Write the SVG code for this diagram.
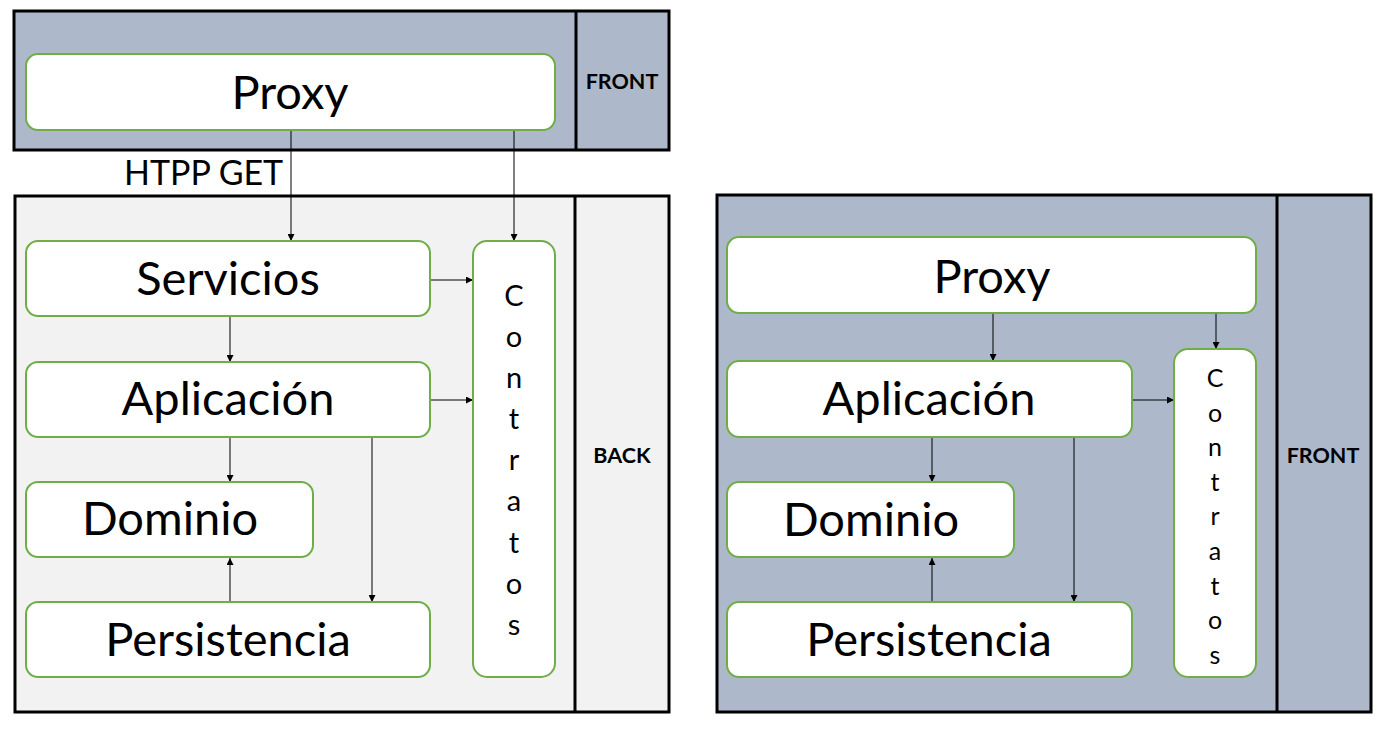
<svg xmlns="http://www.w3.org/2000/svg" width="1391" height="730" viewBox="0 0 1391 730">
<style>
.panel{stroke:#000;stroke-width:3}
.blue{fill:#ADB9CA}
.grey{fill:#F2F2F2}
.box{fill:#fff;stroke:#70AD47;stroke-width:2}
.t{font-family:Lato,"Open Sans",sans-serif;font-size:47px;fill:#000;text-anchor:middle}
.s{font-family:Lato,"Open Sans",sans-serif;font-size:29px;fill:#000;text-anchor:middle}
.r{font-size:25px}
.lbl{font-family:Lato,"Open Sans",sans-serif;font-size:21.5px;font-weight:bold;fill:#000;text-anchor:middle}
.c{stroke:#000;stroke-width:1;fill:none;marker-end:url(#ah)}
</style>
<defs>
<marker id="ah" viewBox="0 0 10 10" refX="10" refY="5" markerWidth="9" markerHeight="7" markerUnits="userSpaceOnUse" orient="auto">
<path d="M0,0 L10,5 L0,10 z" fill="#000"/>
</marker>
</defs>
<rect id="front-top-panel" class="panel blue" x="14" y="11" width="655" height="139"/>
<line class="panel" x1="576" y1="11" x2="576" y2="150"/>
<text class="lbl" x="622" y="89">FRONT</text>
<rect id="back-panel" class="panel grey" x="15" y="196" width="654" height="516"/>
<line class="panel" x1="575" y1="196" x2="575" y2="712"/>
<text class="lbl" x="622" y="463">BACK</text>
<rect id="front-right-panel" class="panel blue" x="717" y="195" width="654" height="517"/>
<line class="panel" x1="1277" y1="195" x2="1277" y2="712"/>
<text class="lbl" x="1323" y="463">FRONT</text>
<text id="http-get" x="124" y="185" style="font-family:Lato,'Open Sans',sans-serif;font-size:34px;fill:#000">HTPP GET</text>
<g id="connectors">
<line class="c" x1="291" y1="131" x2="291" y2="241"/>
<line class="c" x1="514" y1="131" x2="514" y2="241"/>
<line class="c" x1="431" y1="280" x2="473" y2="280"/>
<line class="c" x1="230" y1="317" x2="230" y2="362"/>
<line class="c" x1="431" y1="400" x2="473" y2="400"/>
<line class="c" x1="230" y1="438" x2="230" y2="482"/>
<line class="c" x1="372" y1="438" x2="372" y2="602"/>
<line class="c" x1="230" y1="602" x2="230" y2="558"/>
<line class="c" x1="993" y1="314" x2="993" y2="361"/>
<line class="c" x1="1216" y1="314" x2="1216" y2="349"/>
<line class="c" x1="1133" y1="400" x2="1174" y2="400"/>
<line class="c" x1="932" y1="438" x2="932" y2="482"/>
<line class="c" x1="1074" y1="438" x2="1074" y2="602"/>
<line class="c" x1="932" y1="602" x2="932" y2="558"/>
</g>
<g id="proxy-top"><rect class="box" x="26" y="54" width="529" height="76" rx="12"/><text class="t" x="290" y="109">Proxy</text></g>
<g id="servicios"><rect class="box" x="26" y="241" width="404" height="75" rx="12"/><text class="t" x="228" y="295">Servicios</text></g>
<g id="aplicacion-left"><rect class="box" x="26" y="362" width="404" height="75" rx="12"/><text class="t" x="228" y="415">Aplicación</text></g>
<g id="dominio-left"><rect class="box" x="26" y="482" width="287" height="75" rx="12"/><text class="t" x="170" y="535">Dominio</text></g>
<g id="persistencia-left"><rect class="box" x="26" y="602" width="404" height="75" rx="12"/><text class="t" x="228" y="656">Persistencia</text></g>
<g id="contratos-left"><rect class="box" x="473" y="241" width="82" height="436" rx="14"/>
<text class="s" x="514" y="306">C</text><text class="s" x="514" y="347">o</text><text class="s" x="514" y="388">n</text><text class="s" x="514" y="429">t</text><text class="s" x="514" y="470">r</text><text class="s" x="514" y="511">a</text><text class="s" x="514" y="553">t</text><text class="s" x="514" y="594">o</text><text class="s" x="514" y="635">s</text></g>
<g id="proxy-right"><rect class="box" x="727" y="237" width="529" height="76" rx="12"/><text class="t" x="992" y="293">Proxy</text></g>
<g id="aplicacion-right"><rect class="box" x="727" y="361" width="405" height="76" rx="12"/><text class="t" x="929" y="415">Aplicación</text></g>
<g id="dominio-right"><rect class="box" x="727" y="482" width="287" height="75" rx="12"/><text class="t" x="871" y="536">Dominio</text></g>
<g id="persistencia-right"><rect class="box" x="727" y="602" width="405" height="75" rx="12"/><text class="t" x="929" y="656">Persistencia</text></g>
<g id="contratos-right"><rect class="box" x="1174" y="349" width="82" height="328" rx="14"/>
<text class="s r" x="1215" y="387">C</text><text class="s r" x="1215" y="422">o</text><text class="s r" x="1215" y="456">n</text><text class="s r" x="1215" y="491">t</text><text class="s r" x="1215" y="525">r</text><text class="s r" x="1215" y="560">a</text><text class="s r" x="1215" y="595">t</text><text class="s r" x="1215" y="629">o</text><text class="s r" x="1215" y="664">s</text></g>
</svg>
